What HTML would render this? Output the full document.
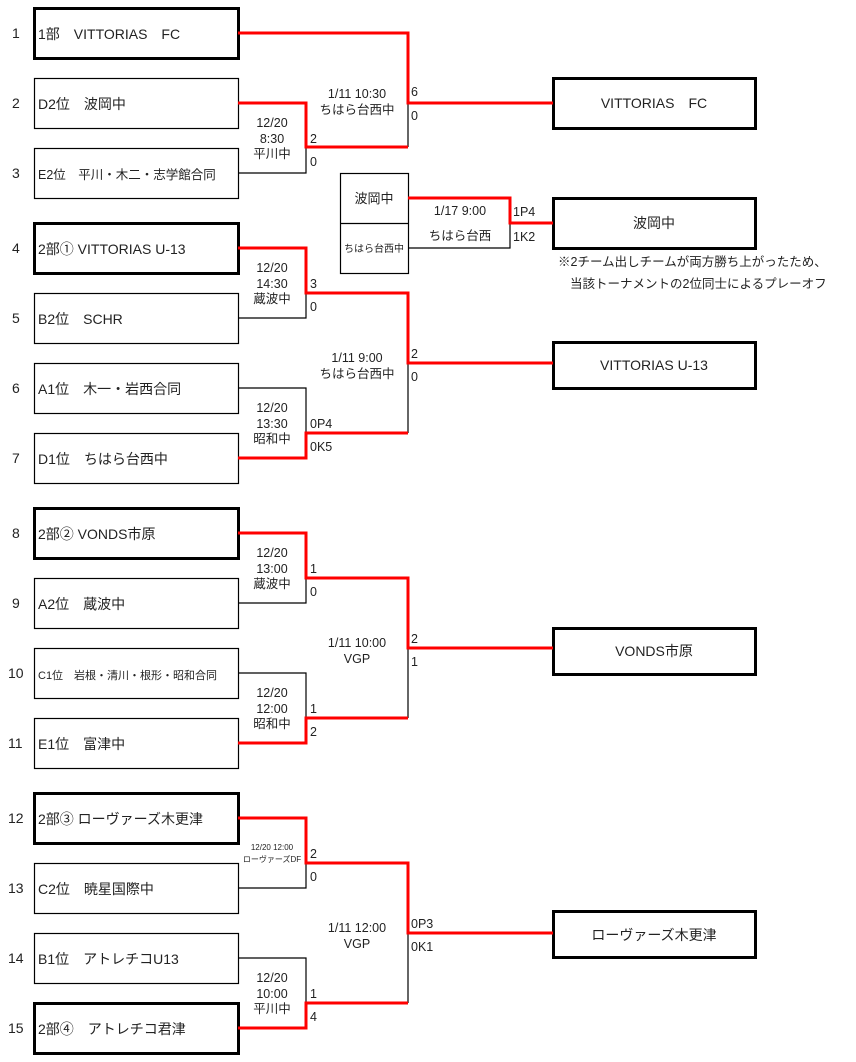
<!DOCTYPE html>
<html><head><meta charset="utf-8"><style>
body{margin:0;background:#fff}
svg{display:block}
text{font-family:"Liberation Sans","Noto Sans CJK JP",sans-serif;font-size:14px;fill:#222}
.s{font-size:12.5px;text-anchor:middle}
.sc{font-size:12.5px}
</style></head><body>
<svg width="856" height="1062" viewBox="0 0 856 1062">
<g fill="none" stroke="#000">
<g stroke-width="3">
<rect x="34.5" y="8.5" width="204" height="50"/>
<rect x="34.5" y="223.5" width="204" height="50"/>
<rect x="34.5" y="508.5" width="204" height="50"/>
<rect x="34.5" y="793.5" width="204" height="50"/>
<rect x="34.5" y="1003.5" width="204" height="50"/>
<rect x="553.5" y="78.5" width="202" height="50"/>
<rect x="553.5" y="198.5" width="202" height="50"/>
<rect x="553.5" y="342.5" width="202" height="46"/>
<rect x="553.5" y="628.5" width="202" height="46"/>
<rect x="553.5" y="911.5" width="202" height="46"/>
</g>
<g stroke-width="1.2">
<rect x="34.5" y="78.5" width="204" height="50"/>
<rect x="34.5" y="148.5" width="204" height="50"/>
<rect x="34.5" y="293.5" width="204" height="50"/>
<rect x="34.5" y="363.5" width="204" height="50"/>
<rect x="34.5" y="433.5" width="204" height="50"/>
<rect x="34.5" y="578.5" width="204" height="50"/>
<rect x="34.5" y="648.5" width="204" height="50"/>
<rect x="34.5" y="718.5" width="204" height="50"/>
<rect x="34.5" y="863.5" width="204" height="50"/>
<rect x="34.5" y="933.5" width="204" height="50"/>
<rect x="340.5" y="173.5" width="68" height="100"/>
<line x1="340" y1="223.5" x2="408" y2="223.5"/>
<polyline points="238,173 306,173 306,147"/>
<polyline points="408,103 408,147"/>
<polyline points="238,318 306,318 306,293"/>
<polyline points="238,388 306,388 306,433"/>
<polyline points="408,363 408,433"/>
<polyline points="408,248 510,248 510,223"/>
<polyline points="238,603 306,603 306,578"/>
<polyline points="238,673 306,673 306,718"/>
<polyline points="408,648 408,718"/>
<polyline points="238,888 306,888 306,863"/>
<polyline points="238,958 306,958 306,1003"/>
<polyline points="408,933 408,1003"/>
</g>
</g>
<g fill="none" stroke="#f00" stroke-width="3">
<polyline points="238,103 306,103 306,147 408,147"/>
<polyline points="238,33 408,33 408,103 553,103"/>
<polyline points="238,248 306,248 306,293 408,293 408,363 553,363"/>
<polyline points="238,458 306,458 306,433 408,433"/>
<polyline points="408,198 510,198 510,223 553,223"/>
<polyline points="238,533 306,533 306,578 408,578 408,648 553,648"/>
<polyline points="238,743 306,743 306,718 408,718"/>
<polyline points="238,818 306,818 306,863 408,863 408,933 553,933"/>
<polyline points="238,1028 306,1028 306,1003 408,1003"/>
</g>
<g>
<text x="12" y="38">1</text><text x="12" y="108">2</text><text x="12" y="178">3</text><text x="12" y="253">4</text><text x="12" y="323">5</text><text x="12" y="393">6</text><text x="12" y="463">7</text><text x="12" y="538">8</text><text x="12" y="608">9</text><text x="8" y="678">10</text><text x="8" y="748">11</text><text x="8" y="823">12</text><text x="8" y="893">13</text><text x="8" y="963">14</text><text x="8" y="1033">15</text>
<text x="38" y="39">1部　VITTORIAS　FC</text>
<text x="38" y="109">D2位　波岡中</text>
<text x="38" y="179" style="font-size:12.5px">E2位　平川・木二・志学館合同</text>
<text x="38" y="254">2部① VITTORIAS U-13</text>
<text x="38" y="324">B2位　SCHR</text>
<text x="38" y="394">A1位　木一・岩西合同</text>
<text x="38" y="464">D1位　ちはら台西中</text>
<text x="38" y="539">2部② VONDS市原</text>
<text x="38" y="609">A2位　蔵波中</text>
<text x="38" y="679" style="font-size:11px">C1位　岩根・清川・根形・昭和合同</text>
<text x="38" y="749">E1位　富津中</text>
<text x="38" y="824">2部③ ローヴァーズ木更津</text>
<text x="38" y="894">C2位　暁星国際中</text>
<text x="38" y="964">B1位　アトレチコU13</text>
<text x="38" y="1034">2部④　アトレチコ君津</text>
<text x="654" y="108" text-anchor="middle">VITTORIAS　FC</text>
<text x="654" y="228" text-anchor="middle">波岡中</text>
<text x="654" y="370" text-anchor="middle">VITTORIAS U-13</text>
<text x="654" y="656" text-anchor="middle">VONDS市原</text>
<text x="654" y="940" text-anchor="middle">ローヴァーズ木更津</text>
<text x="374" y="203" text-anchor="middle" style="font-size:13px">波岡中</text>
<text x="374" y="252" text-anchor="middle" style="font-size:10px">ちはら台西中</text>
<text x="558" y="266" style="font-size:12.5px">※2チーム出しチームが両方勝ち上がったため、</text>
<text x="570" y="288" style="font-size:12.5px">当該トーナメントの2位同士によるプレーオフ</text>
</g>
<g>
<text class="s" x="272" y="127">12/20</text><text class="s" x="272" y="143">8:30</text><text class="s" x="272" y="158">平川中</text>
<text class="s" x="357" y="98">1/11 10:30</text><text class="s" x="357" y="114">ちはら台西中</text>
<text class="s" x="460" y="215">1/17 9:00</text><text class="s" x="460" y="240">ちはら台西</text>
<text class="s" x="272" y="272">12/20</text><text class="s" x="272" y="288">14:30</text><text class="s" x="272" y="303">蔵波中</text>
<text class="s" x="357" y="362">1/11 9:00</text><text class="s" x="357" y="378">ちはら台西中</text>
<text class="s" x="272" y="412">12/20</text><text class="s" x="272" y="428">13:30</text><text class="s" x="272" y="443">昭和中</text>
<text class="s" x="272" y="557">12/20</text><text class="s" x="272" y="573">13:00</text><text class="s" x="272" y="588">蔵波中</text>
<text class="s" x="357" y="647">1/11 10:00</text><text class="s" x="357" y="663">VGP</text>
<text class="s" x="272" y="697">12/20</text><text class="s" x="272" y="713">12:00</text><text class="s" x="272" y="728">昭和中</text>
<text class="s" x="272" y="850" style="font-size:8px">12/20 12:00</text><text class="s" x="272" y="862" style="font-size:8px">ローヴァーズDF</text>
<text class="s" x="357" y="932">1/11 12:00</text><text class="s" x="357" y="948">VGP</text>
<text class="s" x="272" y="982">12/20</text><text class="s" x="272" y="998">10:00</text><text class="s" x="272" y="1013">平川中</text>
</g>
<g class="sc">
<text class="sc" x="310" y="143">2</text><text class="sc" x="310" y="166">0</text>
<text class="sc" x="411" y="96">6</text><text class="sc" x="411" y="120">0</text>
<text class="sc" x="513" y="216">1P4</text><text class="sc" x="513" y="241">1K2</text>
<text class="sc" x="310" y="288">3</text><text class="sc" x="310" y="311">0</text>
<text class="sc" x="411" y="358">2</text><text class="sc" x="411" y="381">0</text>
<text class="sc" x="310" y="428">0P4</text><text class="sc" x="310" y="451">0K5</text>
<text class="sc" x="310" y="573">1</text><text class="sc" x="310" y="596">0</text>
<text class="sc" x="411" y="643">2</text><text class="sc" x="411" y="666">1</text>
<text class="sc" x="310" y="713">1</text><text class="sc" x="310" y="736">2</text>
<text class="sc" x="310" y="858">2</text><text class="sc" x="310" y="881">0</text>
<text class="sc" x="411" y="928">0P3</text><text class="sc" x="411" y="951">0K1</text>
<text class="sc" x="310" y="998">1</text><text class="sc" x="310" y="1021">4</text>
</g>
</svg>
</body></html>
